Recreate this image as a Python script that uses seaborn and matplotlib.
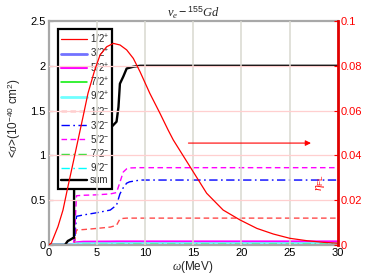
import numpy as np
import pandas as pd
import matplotlib
matplotlib.use("Agg")
import matplotlib.pyplot as plt
import seaborn as sns

# ---------------- data ----------------
omega = [0, 1.5, 2.0, 2.3, 2.55, 2.7, 2.9, 3.6, 5.0, 6.4, 7.05, 7.4, 7.75, 8.1, 8.4, 9.5, 30]
s_1_2p = [0, 0, 0, 0.001, 0.002, 0.003, 0.004, 0.004, 0.004, 0.004, 0.004, 0.004, 0.004, 0.004, 0.004, 0.004, 0.004]
s_3_2p = [0, 0, 0, 0.004, 0.008, 0.012, 0.016, 0.02, 0.022, 0.023, 0.024, 0.025, 0.025, 0.025, 0.025, 0.025, 0.025]
s_5_2p = [0, 0, 0, 0.004, 0.01, 0.02, 0.03, 0.037, 0.038, 0.039, 0.04, 0.04, 0.04, 0.04, 0.04, 0.04, 0.04]
s_7_2p = [0, 0, 0, 0.002, 0.004, 0.006, 0.008, 0.009, 0.009, 0.009, 0.009, 0.009, 0.009, 0.009, 0.009, 0.009, 0.009]
s_9_2p = [0, 0, 0, 0.003, 0.006, 0.01, 0.013, 0.015, 0.015, 0.015, 0.016, 0.016, 0.016, 0.016, 0.016, 0.016, 0.016]
s_1_2m = [0, 0, 0, 0, 0, 0.03, 0.168, 0.172, 0.185, 0.2, 0.22, 0.29, 0.297, 0.3, 0.3, 0.3, 0.3]
s_3_2m = [0, 0, 0, 0, 0, 0.05, 0.32, 0.335, 0.36, 0.39, 0.445, 0.57, 0.64, 0.69, 0.705, 0.725, 0.725]
s_5_2m = [0, 0, 0, 0, 0, 0.1, 0.55, 0.555, 0.56, 0.57, 0.585, 0.7, 0.815, 0.85, 0.86, 0.863, 0.863]
s_7_2m = [0, 0, 0, 0, 0, 0, 0.005, 0.006, 0.006, 0.006, 0.007, 0.008, 0.008, 0.008, 0.008, 0.008, 0.008]
s_9_2m = [0, 0, 0, 0, 0, 0, 0.003, 0.003, 0.003, 0.003, 0.004, 0.004, 0.004, 0.004, 0.004, 0.004, 0.004]

omega_sum = [0, 1.7, 2.0, 2.2, 2.5, 2.64, 2.66, 2.9, 5.0, 6.4, 6.55, 7.05, 7.25, 7.4, 7.75, 8.1, 8.8, 9.5, 30]
sigma_sum = [0, 0, 0.045, 0.056, 0.075, 0.08, 1.1, 1.22, 1.25, 1.28, 1.32, 1.376, 1.54, 1.8, 1.88, 1.97, 1.99, 2.0, 2.0]

omega_flux = [0, 0.29, 0.98, 1.5, 2.02, 2.54, 3.06, 3.58, 4.09, 4.79, 5.34, 6.03, 6.72, 7.41, 8.1,
              8.79, 9.48, 10.5, 11.55, 12.4, 12.93, 14.66, 16.39, 18.1, 19.84, 21.6, 23.3, 25.0,
              26.8, 28.5, 30]
eta_fl = [0, 0.0008, 0.0082, 0.0156, 0.0262, 0.0365, 0.0469, 0.0573, 0.0677, 0.0781, 0.0848, 0.0885,
          0.090, 0.0893, 0.0871, 0.0833, 0.0774, 0.0677, 0.0588, 0.0513, 0.0469, 0.0350, 0.0231,
          0.0156, 0.0112, 0.0074, 0.0049, 0.0030, 0.0019, 0.0012, 0.0008]

labels = ["1/2$^{+}$", "3/2$^{+}$", "5/2$^{+}$", "7/2$^{+}$", "9/2$^{+}$",
          "1/2$^{-}$", "3/2$^{-}$", "5/2$^{-}$", "7/2$^{-}$", "9/2$^{-}$", "sum"]
series = [s_1_2p, s_3_2p, s_5_2p, s_7_2p, s_9_2p, s_1_2m, s_3_2m, s_5_2m, s_7_2m, s_9_2m]

x_ticks = [0, 5, 10, 15, 20, 25, 30]
y_ticks = [0, 0.5, 1, 1.5, 2, 2.5]
y_tick_labels = ["0", "0.5", "1", "1.5", "2", "2.5"]
y2_ticks = [0, 0.02, 0.04, 0.06, 0.08, 0.1]
y2_tick_labels = ["0", "0.02", "0.04", "0.06", "0.08", "0.1"]

# ---------------- style ----------------
sns.set_style("white")
plt.rcParams["font.family"] = ["Liberation Sans", "DejaVu Sans"]
plt.rcParams["mathtext.fontset"] = "custom"
plt.rcParams["mathtext.rm"] = "Liberation Sans"
plt.rcParams["mathtext.it"] = "Liberation Serif:italic"
plt.rcParams["mathtext.default"] = "it"

dd = (0, (6, 2.5, 1.2, 2.5))
styles = [
    dict(color="#ff0000", lw=0.9, ls="-"),
    dict(color="#7272ff", lw=2.0, ls="-"),
    dict(color="#ff00ff", lw=1.5, ls="-"),
    dict(color="#00ee00", lw=1.1, ls="-"),
    dict(color="#70ffff", lw=2.0, ls="-"),
    dict(color="#ff4a4a", lw=1.0, ls=(0, (4, 2.5))),
    dict(color="#0000ff", lw=1.0, ls=dd),
    dict(color="#ff00ff", lw=1.0, ls=(0, (4, 2.5))),
    dict(color="#33dd33", lw=1.0, ls=dd),
    dict(color="#00ffff", lw=1.0, ls=dd),
]

fig = plt.figure(figsize=(3.74, 2.80), dpi=100)
ax = fig.add_axes([0.1297, 0.125, 0.7740, 0.800])

for ys, lab, st in zip(series, labels[:-1], styles):
    sns.lineplot(x=omega, y=ys, ax=ax, color=st["color"], linewidth=st["lw"],
                 linestyle=st["ls"], label=lab, estimator=None, sort=False)
sns.lineplot(x=omega_sum, y=sigma_sum, ax=ax, color="black", linewidth=1.7,
             label=labels[-1], estimator=None, sort=False)

ax.set_xlim(0, 30)
ax.set_ylim(0, 2.5)
ax.set_xticks(x_ticks)
ax.set_yticks(y_ticks)
ax.set_yticklabels(y_tick_labels)
ax.tick_params(axis="both", labelsize=8, direction="in", length=3, width=0.8,
               colors="black", pad=2)
for s in ["left", "bottom", "top"]:
    ax.spines[s].set_color("#a8a8a8")
    ax.spines[s].set_linewidth(1.6)
ax.set_xlabel(r"$\omega$(MeV)", fontsize=8.5, labelpad=1)
ax.set_ylabel(r"<$\sigma$>(10$^{-40}$ cm$^{2}$)", fontsize=8.5)
ax.yaxis.set_label_coords(-0.088, 0.565)
ax.set_title(r"$\nu_e -^{155} Gd$", fontsize=9, pad=3)

leg = ax.legend(loc="upper left", bbox_to_anchor=(0.033, 0.964), borderaxespad=0,
                fontsize=7, frameon=True, fancybox=False, framealpha=1,
                edgecolor="black", handlelength=2.6, handletextpad=0.3,
                labelspacing=0.22, borderpad=0.35)
leg.get_frame().set_linewidth(1.6)

# right axis: flux
ax2 = ax.twinx()
ax2.set_zorder(ax.get_zorder() + 1)
ax2.patch.set_visible(False)

# grid on the top layer (passes over the legend as in the reference)
for xt in x_ticks[1:-1]:
    ax2.axvline(xt, color="#d8d8d0", linewidth=1.1, zorder=0.5)
for yt in y2_ticks[1:-1]:
    ax2.axhline(yt, color="#ffcfcf", linewidth=0.9, zorder=0.5)

sns.lineplot(x=omega_flux, y=eta_fl, ax=ax2, color="red", linewidth=0.9,
             estimator=None, sort=False)
ax2.set_ylim(0, 0.1)
ax2.set_xlim(0, 30)
ax2.set_yticks(y2_ticks)
ax2.set_yticklabels(y2_tick_labels)
ax2.tick_params(axis="y", labelsize=8, direction="in", length=3, width=0.8,
                colors="red", labelcolor="red", pad=2)
ax2.spines["right"].set_color("#e00000")
ax2.spines["right"].set_linewidth(2.0)
for s in ["left", "bottom", "top"]:
    ax2.spines[s].set_visible(False)
ax2.set_ylabel("")
ax2.set_xlabel("")

ax2.text(28.2, 0.028, r"$\eta_{\mathrm{FL}}$", color="red", fontsize=8.5,
         rotation=90, ha="center", va="center")
ax2.annotate("", xy=(27.2, 0.0455), xytext=(14.5, 0.0455),
             arrowprops=dict(arrowstyle="-|>", color="red", lw=0.8,
                             mutation_scale=8, shrinkA=0, shrinkB=0))

fig.savefig("out.png", dpi=100)
